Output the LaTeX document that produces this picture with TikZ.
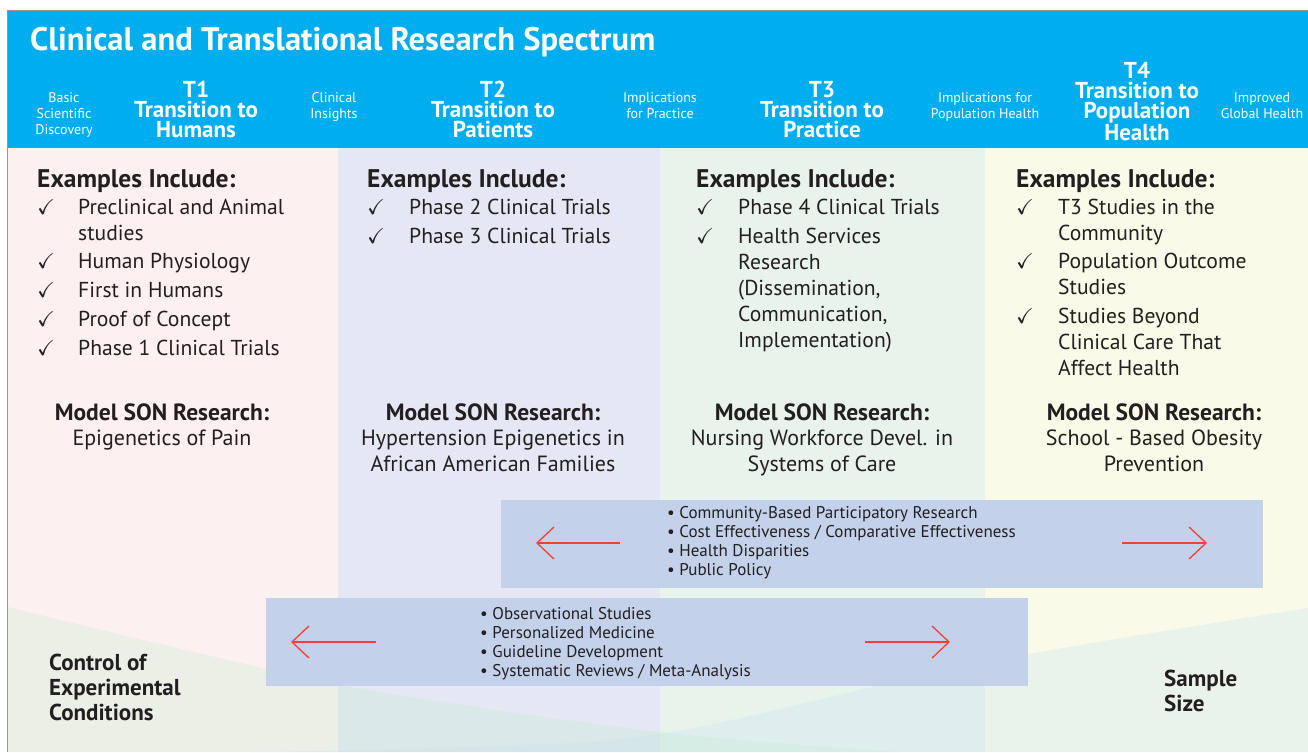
\documentclass[tikz,border=0pt]{standalone}
\usepackage{fontspec}
\setmainfont{PT Sans}
\usepackage{amssymb}
\usetikzlibrary{arrows.meta,positioning}

\definecolor{hdrblue}{RGB}{0,174,239}
\definecolor{colpink}{RGB}{253,240,240}
\definecolor{collav}{RGB}{230,231,244}
\definecolor{colgreen}{RGB}{232,243,236}
\definecolor{colyellow}{RGB}{249,250,232}
\definecolor{wedgeleft}{RGB}{196,237,207}
\definecolor{wedgeright}{RGB}{200,228,240}
\definecolor{bandblue}{RGB}{195,209,234}
\definecolor{arrowred}{RGB}{239,65,54}
\definecolor{ink}{RGB}{35,31,32}
\definecolor{framegray}{RGB}{150,150,150}

\begin{document}
\begin{tikzpicture}[x=1pt,y=-1pt,
    ttl/.style={anchor=base west, inner sep=0pt, text=white, font=\bfseries\fontsize{32.6}{34}\selectfont},
    hdr/.style={anchor=base, inner sep=0pt, align=center, text=white, font=\fontsize{14}{16}\selectfont},
    trans/.style={anchor=base, inner sep=0pt, align=center, text=white, font=\bfseries\fontsize{23}{20}\selectfont},
    exhead/.style={anchor=base west, inner sep=0pt, text=ink, font=\bfseries\fontsize{25.5}{26}\selectfont},
    chklist/.style={anchor=base west, inner sep=0pt, text=ink, font=\fontsize{21.6}{26}\selectfont},
    sonhead/.style={anchor=base, inner sep=0pt, text=ink, font=\bfseries\fontsize{23.5}{26}\selectfont},
    sontext/.style={anchor=base, inner sep=0pt, align=center, text=ink, font=\fontsize{22}{26}\selectfont},
    band/.style={fill=bandblue, inner sep=0pt, anchor=north west},
    bullets/.style={anchor=base west, inner sep=0pt, text=ink, font=\fontsize{17}{19}\selectfont},
    axis/.style={anchor=base west, inner sep=0pt, align=left, text=ink, font=\bfseries\fontsize{23}{25}\selectfont},
    barb/.style={draw=arrowred, line width=1.3pt, -{Straight Barb[length=17pt,width=32pt]}}
    ]
    \useasboundingbox (0,0) rectangle (1308,752);

    %Background
    \fill[colpink]   (8,148) rectangle (338,752);
    \fill[collav]    (338,148) rectangle (660,752);
    \fill[colgreen]  (660,148) rectangle (985,752);
    \fill[colyellow] (985,148) rectangle (1308,752);
    \fill[wedgeleft, opacity=0.3] plot[smooth] coordinates {(8,607) (338,684) (660,732) (900,752)} -- (8,752) -- cycle;
    \fill[wedgeright, opacity=0.3] plot[smooth] coordinates {(1308,608) (985,662) (660,734) (430,748) (250,752)} -- (1308,752) -- cycle;
    \fill[hdrblue] (8,11) rectangle (1308,148);
    \draw[framegray, line width=1pt] (7.5,752) -- (7.5,10.5) -- (1308,10.5);

    %Header (multi-line nodes sit on their last baseline)
    \node[ttl]   (title)   at (30,51) {Clinical and Translational Research Spectrum};
    \node[hdr]   (basic)   at (64,134)  {Basic\\Scientific\\Discovery};
    \node[trans] (t1)      at (196,137) {T1\\Transition to\\Humans};
    \node[hdr]   (clin)    at (334,118) {Clinical\\Insights};
    \node[trans] (t2)      at (493,137) {T2\\Transition to\\Patients};
    \node[hdr]   (implpr)  at (660,118) {Implications\\for Practice};
    \node[trans] (t3)      at (822,137) {T3\\Transition to\\Practice};
    \node[hdr]   (implpop) at (985,118) {Implications for\\Population Health};
    \node[trans] (t4)      at (1137,140) {T4\\Transition to\\Population\\Health};
    \node[hdr]   (global)  at (1262,118) {Improved\\Global Health};

    %Examples
    \node[exhead] (ex1) at (37,187)   {Examples Include:};
    \node[exhead] (ex2) at (367,187)  {Examples Include:};
    \node[exhead] (ex3) at (696,187)  {Examples Include:};
    \node[exhead] (ex4) at (1016,187) {Examples Include:};

    \node[chklist] (list1) at (37,214) {\begin{tabular}[t]{@{}p{41pt}@{}l@{}}
        $\checkmark$ & Preclinical and Animal\\
                     & studies\\[2pt]
        $\checkmark$ & Human Physiology\\[3pt]
        $\checkmark$ & First in Humans\\[3pt]
        $\checkmark$ & Proof of Concept\\[3pt]
        $\checkmark$ & Phase 1 Clinical Trials
        \end{tabular}};
    \node[chklist] (list2) at (367,214) {\begin{tabular}[t]{@{}p{42pt}@{}l@{}}
        $\checkmark$ & Phase 2 Clinical Trials\\[3pt]
        $\checkmark$ & Phase 3 Clinical Trials
        \end{tabular}};
    \node[chklist] (list3) at (696,214) {\begin{tabular}[t]{@{}p{42pt}@{}l@{}}
        $\checkmark$ & Phase 4 Clinical Trials\\[3pt]
        $\checkmark$ & Health Services\\
                     & Research\\
                     & (Dissemination,\\
                     & Communication,\\
                     & Implementation)
        \end{tabular}};
    \node[chklist] (list4) at (1016,214) {\begin{tabular}[t]{@{}p{42pt}@{}l@{}}
        $\checkmark$ & T3 Studies in the\\
                     & Community\\[2pt]
        $\checkmark$ & Population Outcome\\
                     & Studies\\[3pt]
        $\checkmark$ & Studies Beyond\\
                     & Clinical Care That\\
                     & Affect Health
        \end{tabular}};

    %Model research
    \node[sonhead] (son1) at (162,420)  {Model SON Research:};
    \node[sonhead] (son2) at (493,420)  {Model SON Research:};
    \node[sonhead] (son3) at (822,420)  {Model SON Research:};
    \node[sonhead] (son4) at (1154,420) {Model SON Research:};
    \node[sontext] (res1) at (162,445)  {Epigenetics of Pain};
    \node[sontext] (res2) at (493,471)  {Hypertension Epigenetics in\\African American Families};
    \node[sontext] (res3) at (822,471)  {Nursing Workforce Devel. in\\Systems of Care};
    \node[sontext] (res4) at (1154,471) {School - Based Obesity\\Prevention};

    %Bands
    \node[band, minimum width=762pt, minimum height=88pt] (bandA) at (501,500) {};
    \node[band, minimum width=762pt, minimum height=88pt] (bandB) at (266,598) {};

    \node[bullets] (listA) at (667,518) {\begin{tabular}[t]{@{}l@{}}
        \textbullet\ Community-Based Participatory Research\\
        \textbullet\ Cost Effectiveness / Comparative Effectiveness\\
        \textbullet\ Health Disparities\\
        \textbullet\ Public Policy
        \end{tabular}};
    \node[bullets] (listB) at (480,619) {\begin{tabular}[t]{@{}l@{}}
        \textbullet\ Observational Studies\\
        \textbullet\ Personalized Medicine\\
        \textbullet\ Guideline Development\\
        \textbullet\ Systematic Reviews / Meta-Analysis
        \end{tabular}};

    \coordinate (aLs) at (620,543);
    \coordinate (aLe) at (536,543);
    \coordinate (aRs) at (1122,543);
    \coordinate (aRe) at (1207,543);
    \coordinate (bLs) at (376,642);
    \coordinate (bLe) at (291,642);
    \coordinate (bRs) at (865,642);
    \coordinate (bRe) at (950,642);

    %Arrows
    \draw[barb] (aLs) -- (aLe);
    \draw[barb] (aRs) -- (aRe);
    \draw[barb] (bLs) -- (bLe);
    \draw[barb] (bRs) -- (bRe);

    %Axis labels
    \node[axis] (control) at (49,720)  {Control of\\Experimental\\Conditions};
    \node[axis] (sample)  at (1164,711) {Sample\\Size};
\end{tikzpicture}
\end{document}
